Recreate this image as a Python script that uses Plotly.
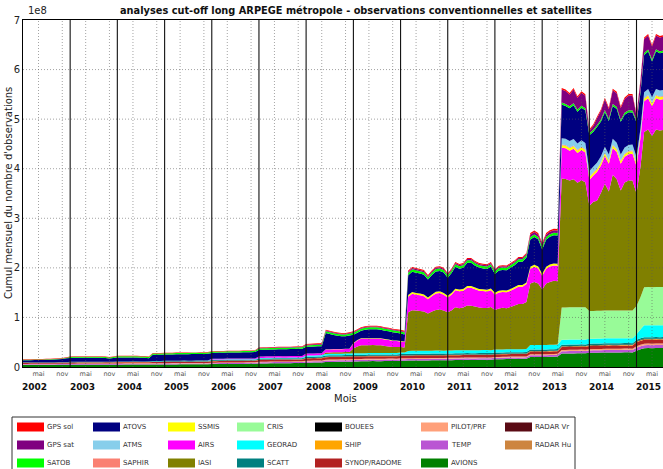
import plotly.graph_objects as go
import pandas as pd

# ---------------- DATA (monthly totals, unit = 1e6 observations) ----------------
MONTHS = pd.date_range("2002-01-01", "2015-08-01", freq="MS")

GPS_SOL = [
1.0,1.0,1.0,1.0,1.0,1.0,1.0,1.0,1.0,1.0,1.0,1.0,
1.0,1.0,1.0,1.0,1.0,1.0,1.0,1.0,1.0,1.0,1.0,1.0,
1.0,1.0,1.0,1.0,1.0,1.0,1.0,1.0,1.0,1.0,1.0,1.0,
1.0,1.0,1.0,1.0,1.0,1.0,1.0,1.0,1.0,1.0,1.0,1.0,
1.0,1.0,1.0,1.0,1.0,1.0,1.0,1.0,1.0,1.0,1.0,1.0,
1.0,1.0,1.0,1.0,1.0,1.0,1.0,1.0,1.0,1.0,1.0,1.0,
1.5,1.5,1.5,1.5,1.5,1.5,1.5,1.5,1.5,1.5,1.5,1.5,
1.5,1.5,1.5,1.5,1.5,1.5,1.5,1.5,1.5,1.5,1.5,1.5,
2.0,2.0,2.0,2.0,2.0,2.0,2.0,2.0,2.0,2.0,2.0,2.0,
2.0,2.0,2.0,2.0,2.0,2.0,2.0,2.0,2.0,2.0,2.0,2.0,
2.0,2.0,2.0,2.0,2.0,2.0,2.0,2.0,2.0,3.0,3.0,3.0,
3.0,3.0,3.0,3.0,3.0,3.0,3.0,3.0,3.0,3.0,3.0,3.0,
3.0,3.0,3.0,3.0,3.0,3.0,3.0,3.0,3.0,3.0,3.0,3.0,
3.0,3.0,3.0,3.0,3.0,3.0,3.0,3.0]

GPS_SAT = [
0,0,0,0,0,0,0,0,0,0,0,0,
0,0,0,0,0,0,0,0,0,0,0,0,
0,0,0,0,0,0,0,0,0,0,0,0,
0,0,0,0,0,0,0,0,0,0,0,0,
0,0,0,0,0,0,0,0,0,0,0,0,
1.0,1.0,1.0,1.0,1.0,1.0,1.0,1.0,1.0,1.0,1.0,1.0,
1.5,1.5,1.5,1.5,1.5,1.5,1.5,1.5,1.5,1.5,1.5,1.5,
1.5,1.5,1.5,1.5,1.5,1.5,1.5,1.5,1.5,1.5,1.5,1.5,
1.5,1.5,2.5,2.5,2.5,2.5,2.5,2.5,2.5,2.5,2.5,2.5,
2.5,2.5,2.5,2.5,2.5,2.5,2.5,2.5,2.5,2.5,2.5,2.5,
2.5,2.5,2.5,2.5,2.5,2.5,2.5,2.5,2.5,5,5,5,
5,5,5,5,5,26,26,24,28,24,26,25,
5,8,14,18,22,20,28,28,24,28,30,30,
10,20,28,28,26,28,28,28]

SATOB = [
1.0,1.0,1.0,1.0,1.0,1.0,1.0,1.0,1.0,1.0,1.0,1.0,
2.0,2.0,2.0,2.0,2.0,2.0,2.0,2.0,2.0,2.0,2.0,2.0,
2.5,2.5,2.5,2.5,2.5,2.5,2.5,2.5,2.5,2.5,2.5,2.5,
2.5,2.5,2.5,2.5,2.5,2.5,2.5,2.5,2.5,2.5,2.5,2.5,
2.5,2.5,2.5,2.5,2.5,2.5,2.5,2.5,2.5,2.5,2.5,2.5,
3.0,3.0,3.0,3.0,3.0,3.0,3.0,3.0,3.0,3.0,3.0,3.0,
3.0,3.0,3.0,3.0,3.0,3.5,3.5,3.5,3.5,3.5,3.5,3.5,
4,4,4,4,4,4,4,4,4,4,4,4,
4,4,5,5,5,5,5,5,5,5,5,5,
5,5,5,5,5,5,5,5,5,5,5,5,
5,5,5,5,5,5,5,5,5,5,5,5,
5,5,5,5,5,4,4,4,4,4,4,4,
4,4,4,4,4,4,4,4,4,4,4,4,
4,4,4,4,4,4,4,4]

ATOVS = [
4.0,4.0,4.2,4.4,4.3,4.5,4.9,4.9,5.3,5.7,6.2,8.0,
8.0,8.1,8.0,8.2,8.1,8.0,8.2,8.3,8.0,7.6,6.5,7.5,
7.8,7.9,7.8,8.0,7.9,7.8,7.6,7.2,6.4,12.5,12.6,12.8,
12.6,12.8,12.5,12.9,13.0,12.8,13.0,13.2,13.1,13.3,13.4,13.6,
11.8,12.0,12.2,12.0,12.3,12.4,12.2,12.5,12.6,12.4,12.6,12.8,
13.0,13.2,13.1,13.5,13.4,13.6,13.8,13.7,14.0,14.2,14.4,14.6,
13.5,13.8,14.0,14.2,14.3,32.7,30.8,28.7,26.6,25.5,25.3,27.0,
16.5,14.4,15.2,17.1,17.9,17.8,17.9,16.9,16.7,16.6,16.6,15.7,
15.3,14.2,40,41,41,40,40,36,39,41,41,41,
36,40,44,42,43,47,47,44,43,42,42,44,
38,41,41,41,43,44,47,47,50,55,56,55,
49,55,56,57,57,68,66,66,68,64,66,66,
72,70,72,70,70,68,66,68,66,66,66,65,
70,72,75,76,72,76,75,76]

ATMS = [
0,0,0,0,0,0,0,0,0,0,0,0,
0,0,0,0,0,0,0,0,0,0,0,0,
0,0,0,0,0,0,0,0,0,0,0,0,
0,0,0,0,0,0,0,0,0,0,0,0,
0,0,0,0,0,0,0,0,0,0,0,0,
0,0,0,0,0,0,0,0,0,0,0,0,
0,0,0,0,0,0,0,0,0,0,0,0,
0,0,0,0,0,0,0,0,0,0,0,0,
0,0,0,0,0,0,0,0,0,0,0,0,
0,0,0,0,0,0,0,0,0,0,0,0,
0,0,0,0,0,0,0,0,0,0,0,0,
0,0,0,0,0,13,13,13,13,13,13,13,
12,12,12,12,12,12,12,12,12,12,12,12,
12,12,12,12,12,12,12,12]

SAPHIR = [
0,0,0,0,0,0,0,0,0,0,0,0,
0,0,0,0,0,0,0,0,0,0,0,0,
0,0,0,0,0,0,0,0,0,0,0,0,
0,0,0,0,0,0,0,0,0,0,0,0,
0,0,0,0,0,0,0,0,0,0,0,0,
0,0,0,0,0,0,0,0,0,0,0,0,
0,0,0,0,0,0,0,0,0,0,0,0,
0,0,0,0,0,0,0,0,0,0,0,0,
0,0,0,0,0,0,0,0,0,0,0,0,
0,0,0,0,0,0,0,0,0,0,0,0,
0,0,0,0,0,0,0,0,0,0,0,0,
0,0,0,0,0,1.5,1.5,1.5,1.5,1.5,1.5,1.5,
1.5,1.5,1.5,1.5,1.5,1.5,1.5,1.5,1.5,1.5,1.5,1.5,
1.5,1.5,1.5,1.5,1.5,1.5,1.5,1.5]

SSMIS = [
0,0,0,0,0,0,0,0,0,0,0,0,
0,0,0,0,0,0,0,0,0,0,0,0,
0,0,0,0,0,0,0,0,0,0,0,0,
0,0,0,0,0,0,0,0,0,0,0,0,
0,0,0,0,0,0,0,0,0,0,0,0,
0,0,0,0,0,0,0,0,0,0,0,0,
0,0,0,0,0,0.5,0.5,0.5,0.5,0.5,0.5,0.5,
1,1,1,1,1,1,1,1,1,1,1,1,
1,1,3.5,3.5,3.5,3.5,3.5,3.5,3.5,3.5,3.5,3.5,
3.5,3.5,3.5,3.5,3.5,3.5,3.5,3.5,3.5,3.5,3.5,3.5,
3.5,3.5,3.5,3.5,3.5,3.5,3.5,3.5,3.5,4,4,4,
4,4,4,4,4,5,5,5,5,5,5,5,
5,5,5,5,5,5,5,5,5,5,5,5,
5,5,5,5,5,5,5,5]

AIRS = [
0,0,0,0,0,0,0,0,0,0,0,0,
0,0,0,0,0,0,0,0,0,0,0,0,
0,0,0,0,0,0,0,0,0,0,0,0,
0,0,0,0,0,0,0,0,0,0,0,0,
1.5,1.5,1.5,1.5,1.5,1.5,1.5,1.5,1.5,1.5,1.5,1.5,
3,3,3,3,3,3,3,3,3,3,3,3,
4,4,4,4,4,6,6,6,6,6,6,6,
10,12,13,13,13,13,13,13,13,13,12,12,
11,11,31,33,32,32,31,29,31,33,33,32,
30,32,34,34,34,36,36,35,34,34,33,34,
31,32,32,32,33,34,35,35,36,30,31,30,
28,30,31,31,31,62,62,60,62,60,61,60,
52,53,58,55,56,56,54,55,54,52,53,54,
55,58,62,63,60,63,62,62]

IASI = [
0,0,0,0,0,0,0,0,0,0,0,0,
0,0,0,0,0,0,0,0,0,0,0,0,
0,0,0,0,0,0,0,0,0,0,0,0,
0,0,0,0,0,0,0,0,0,0,0,0,
0,0,0,0,0,0,0,0,0,0,0,0,
0,0,0,0,0,0,0,0,0,0,0,0,
0,0,0,0,0,3,3,3,3,3,3,3,
10,14,16,16,16,16,16,16,14,13,12,12,
11,10,78,82,81,80,79,75,79,82,83,81,
77,81,87,85,86,90,90,88,86,85,85,87,
80,83,84,83,85,88,91,91,95,124,127,124,
112,124,127,129,128,260,259,256,258,251,256,252,
212,220,222,238,256,240,274,265,242,258,262,262,
227,264,313,318,305,318,316,317]

CRIS = [
0,0,0,0,0,0,0,0,0,0,0,0,
0,0,0,0,0,0,0,0,0,0,0,0,
0,0,0,0,0,0,0,0,0,0,0,0,
0,0,0,0,0,0,0,0,0,0,0,0,
0,0,0,0,0,0,0,0,0,0,0,0,
0,0,0,0,0,0,0,0,0,0,0,0,
0,0,0,0,0,0,0,0,0,0,0,0,
0,0,0,0,0,0,0,0,0,0,0,0,
0,0,0,0,0,0,0,0,0,0,0,0,
0,0,0,0,0,0,0,0,0,0,0,0,
0,0,0,0,0,0,0,0,0,0,0,0,
0,0,0,0,0,65,65,65,65,65,65,65,
56,56,56,56,56,56,56,56,56,56,56,56,
57,65,77,77,77,77,77,77]

GEORAD = [
0,0,0,0,0,0,0,0,0,0,0,0,
0,0,0,0,0,0,0,0,0,0,0,0,
0,0,0,0,0,0,0,0,0,0.5,0.5,0.5,
0.5,0.5,0.5,0.5,0.5,0.5,0.5,0.5,0.5,0.5,0.5,0.5,
1.0,1.0,1.0,1.0,1.0,1.0,1.0,1.0,1.0,1.0,1.0,1.0,
1.5,1.5,1.5,1.5,1.5,1.5,1.5,1.5,1.5,1.5,1.5,1.5,
2.5,2.5,2.5,2.5,2.5,3,3,3,3,3,3,3,
3,3,3,3,3,3,3,3,3,3,3,3,
3,3,6,6,6,6,6,6,6,6,6,6,
6,6,6,6,6,6,6,6,6,6,6,6,
6,6,6,6,6,6,6,6,6,9,9,9,
9,9,9,9,9,10,10,10,10,10,10,10,
10,10,10,10,10,10,10,10,10,10,10,10,
11,18,24,24,24,24,24,24]

SCATT = [
0.6,0.6,0.6,0.6,0.6,0.6,0.6,0.6,0.6,0.6,0.6,0.6,
0.8,0.8,0.8,0.8,0.8,0.8,0.8,0.8,0.8,0.8,0.8,0.8,
1.0,1.0,1.0,1.0,1.0,1.0,1.0,1.0,1.0,1.0,1.0,1.0,
1.2,1.2,1.2,1.2,1.2,1.2,1.2,1.2,1.2,1.2,1.2,1.2,
1.5,1.5,1.5,1.5,1.5,1.5,1.5,1.5,1.5,1.5,1.5,1.5,
2.0,2.0,2.0,2.0,2.0,2.0,2.0,2.0,2.0,2.0,2.0,2.0,
2.5,2.5,2.5,2.5,2.5,2.5,2.5,2.5,2.5,2.5,2.5,2.5,
2.5,2.5,2.5,2.5,2.5,2.5,2.5,2.5,2.5,2.5,2.5,2.5,
2.8,2.8,2.8,2.8,2.8,2.8,2.8,2.8,2.8,2.8,2.8,2.8,
2.8,2.8,2.8,2.8,2.8,2.8,2.8,2.8,2.8,2.8,2.8,2.8,
2.8,2.8,2.8,2.8,2.8,2.8,2.8,2.8,2.8,3,3,3,
3,3,3,3,3,3,3,3,3,3,3,3,
3,3,3,3,3,3,3,3,3,3,3,3,
3,3,3,3,3,3,3,3]

BOUEES = [
0.3,0.3,0.3,0.3,0.3,0.3,0.3,0.3,0.3,0.3,0.3,0.3,
0.3,0.3,0.3,0.3,0.3,0.3,0.3,0.3,0.3,0.3,0.3,0.3,
0.3,0.3,0.3,0.3,0.3,0.3,0.3,0.3,0.3,0.3,0.3,0.3,
0.3,0.3,0.3,0.3,0.3,0.3,0.3,0.3,0.3,0.3,0.3,0.3,
0.4,0.4,0.4,0.4,0.4,0.4,0.4,0.4,0.4,0.4,0.4,0.4,
0.4,0.4,0.4,0.4,0.4,0.4,0.4,0.4,0.4,0.4,0.4,0.4,
0.5,0.5,0.5,0.5,0.5,0.5,0.5,0.5,0.5,0.5,0.5,0.5,
0.5,0.5,0.5,0.5,0.5,0.5,0.5,0.5,0.5,0.5,0.5,0.5,
0.5,0.5,0.5,0.5,0.5,0.5,0.5,0.5,0.5,0.5,0.5,0.5,
0.5,0.5,0.5,0.5,0.5,0.5,0.5,0.5,0.5,0.5,0.5,0.5,
0.5,0.5,0.5,0.5,0.5,0.5,0.5,0.5,0.5,0.6,0.6,0.6,
0.6,0.6,0.6,0.6,0.6,0.8,0.8,0.8,0.8,0.8,0.8,0.8,
0.8,0.8,0.8,0.8,0.8,0.8,0.8,0.8,0.8,0.8,0.8,0.8,
1.0,1.0,1.0,1.0,1.0,1.0,1.0,1.0]

SHIP = [
0.3,0.3,0.3,0.3,0.3,0.3,0.3,0.3,0.3,0.3,0.3,0.3,
0.3,0.3,0.3,0.3,0.3,0.3,0.3,0.3,0.3,0.3,0.3,0.3,
0.3,0.3,0.3,0.3,0.3,0.3,0.3,0.3,0.3,0.3,0.3,0.3,
0.3,0.3,0.3,0.3,0.3,0.3,0.3,0.3,0.3,0.3,0.3,0.3,
0.4,0.4,0.4,0.4,0.4,0.4,0.4,0.4,0.4,0.4,0.4,0.4,
0.4,0.4,0.4,0.4,0.4,0.4,0.4,0.4,0.4,0.4,0.4,0.4,
0.5,0.5,0.5,0.5,0.5,0.5,0.5,0.5,0.5,0.5,0.5,0.5,
0.5,0.5,0.5,0.5,0.5,0.5,0.5,0.5,0.5,0.5,0.5,0.5,
0.5,0.5,0.5,0.5,0.5,0.5,0.5,0.5,0.5,0.5,0.5,0.5,
0.5,0.5,0.5,0.5,0.5,0.5,0.5,0.5,0.5,0.5,0.5,0.5,
0.5,0.5,0.5,0.5,0.5,0.5,0.5,0.5,0.5,0.6,0.6,0.6,
0.6,0.6,0.6,0.6,0.6,0.8,0.8,0.8,0.8,0.8,0.8,0.8,
0.8,0.8,0.8,0.8,0.8,0.8,0.8,0.8,0.8,0.8,0.8,0.8,
1.0,1.0,1.0,1.0,1.0,1.0,1.0,1.0]

SYNOP = [
2.0,2.0,2.0,2.0,2.0,2.0,2.0,2.0,2.0,2.0,2.0,2.0,
2.2,2.2,2.2,2.2,2.2,2.2,2.2,2.2,2.2,2.2,2.2,2.2,
2.3,2.3,2.3,2.3,2.3,2.3,2.3,2.3,2.3,2.3,2.3,2.3,
2.5,2.5,2.5,2.5,2.5,2.5,2.5,2.5,2.5,2.5,2.5,2.5,
3.0,3.0,3.0,3.0,3.0,3.0,3.0,3.0,3.0,3.0,3.0,3.0,
3.5,3.5,3.5,3.5,3.5,3.5,3.5,3.5,3.5,3.5,3.5,3.5,
4.5,4.5,4.5,4.5,4.5,5,5,5,5,5,5,5,
5,5,5,5,5,5,5,5,5,5,5,5,
5,5,5,5,5,5,5,5,5,5,5,5,
5,5,5,5,5,5,5,5,5,5,5,5,
5,5,5,5,5,5,5,5,5,5.5,5.5,5.5,
5.5,5.5,5.5,5.5,5.5,6,6,6,6,6,6,6,
6.5,6.5,6.5,6.5,6.5,6.5,6.5,6.5,6.5,6.5,6.5,6.5,
8,8,8,8,8,8,8,8]

PILOT = [
0.8,0.8,0.8,0.8,0.8,0.8,0.8,0.8,0.8,0.8,0.8,0.8,
0.8,0.8,0.8,0.8,0.8,0.8,0.8,0.8,0.8,0.8,0.8,0.8,
0.9,0.9,0.9,0.9,0.9,0.9,0.9,0.9,0.9,0.9,0.9,0.9,
0.9,0.9,0.9,0.9,0.9,0.9,0.9,0.9,0.9,0.9,0.9,0.9,
1.0,1.0,1.0,1.0,1.0,1.0,1.0,1.0,1.0,1.0,1.0,1.0,
1.2,1.2,1.2,1.2,1.2,1.2,1.2,1.2,1.2,1.2,1.2,1.2,
1.5,1.5,1.5,1.5,1.5,1.8,1.8,1.8,1.8,1.8,1.8,1.8,
1.8,1.8,1.8,1.8,1.8,1.8,1.8,1.8,1.8,1.8,1.8,1.8,
1.8,1.8,1.8,1.8,1.8,1.8,1.8,1.8,1.8,1.8,1.8,1.8,
1.8,1.8,1.8,1.8,1.8,1.8,1.8,1.8,1.8,1.8,1.8,1.8,
1.8,1.8,1.8,1.8,1.8,1.8,1.8,1.8,1.8,2.0,2.0,2.0,
2.0,2.0,2.0,2.0,2.0,2.5,2.5,2.5,2.5,2.5,2.5,2.5,
2.5,2.5,2.5,2.5,2.5,2.5,2.5,2.5,2.5,2.5,2.5,2.5,
3.0,3.0,3.0,3.0,3.0,3.0,3.0,3.0]

TEMP = [
1.5,1.5,1.5,1.5,1.5,1.5,1.5,1.5,1.5,1.5,1.5,1.5,
1.6,1.6,1.6,1.6,1.6,1.6,1.6,1.6,1.6,1.6,1.6,1.6,
1.7,1.7,1.7,1.7,1.7,1.7,1.7,1.7,1.7,1.7,1.7,1.7,
1.8,1.8,1.8,1.8,1.8,1.8,1.8,1.8,1.8,1.8,1.8,1.8,
2.0,2.0,2.0,2.0,2.0,2.0,2.0,2.0,2.0,2.0,2.0,2.0,
2.3,2.3,2.3,2.3,2.3,2.3,2.3,2.3,2.3,2.3,2.3,2.3,
2.5,2.5,2.5,2.5,2.5,3.0,3.0,3.0,3.0,3.0,3.0,3.0,
3.0,3.0,3.0,3.0,3.0,3.0,3.0,3.0,3.0,3.0,3.0,3.0,
3.0,3.0,3.0,3.0,3.0,3.0,3.0,3.0,3.0,3.0,3.0,3.0,
3.0,3.0,3.0,3.0,3.0,3.0,3.0,3.0,3.0,3.0,3.0,3.0,
3.0,3.0,3.0,3.0,3.0,3.0,3.0,3.0,3.0,3.5,3.5,3.5,
3.5,3.5,3.5,3.5,3.5,5.0,5.0,5.0,5.0,5.0,5.0,5.0,
5.0,5.0,5.0,5.0,5.0,5.0,5.0,5.0,5.0,5.0,5.0,5.0,
6.0,6.0,6.0,6.0,6.0,6.0,6.0,6.0]

AVIONS = [
4.0,4.0,4.1,4.1,4.2,4.2,4.1,4.1,4.2,4.3,4.3,4.3,
4.4,4.4,4.5,4.5,4.6,4.6,4.5,4.5,4.6,4.7,4.7,4.6,
4.7,4.7,4.8,4.8,4.9,4.9,4.8,4.8,4.9,5.0,5.0,5.0,
5.1,5.1,5.2,5.2,5.3,5.4,5.3,5.3,5.4,5.5,5.5,5.5,
5.8,5.8,6.0,6.0,6.2,6.3,6.2,6.2,6.3,6.5,6.5,6.5,
7.0,7.1,7.3,7.4,7.6,7.7,7.6,7.6,7.8,8.0,8.0,8.0,
8.6,8.7,8.9,9.0,9.2,10.0,10.2,10.3,10.5,10.6,10.8,10.8,
11.2,11.3,11.5,11.6,11.8,11.9,11.8,11.8,12.0,12.1,12.1,12.0,
12.6,12.7,12.9,13.0,13.2,13.3,13.2,13.2,13.4,13.5,13.5,13.4,
13.7,13.8,14.0,14.1,14.3,14.4,14.2,14.2,14.4,14.5,14.5,14.4,
15.5,15.6,15.8,16.0,16.2,16.4,16.3,16.4,16.6,20.0,20.2,20.3,
20.0,20.2,20.5,20.8,21.0,27.0,27.0,27.2,27.4,27.5,27.6,27.5,
28.5,28.6,28.8,29.0,29.2,29.4,29.2,29.2,29.4,29.6,29.6,29.5,
33.0,36.0,38.0,38.2,38.0,38.3,38.2,38.4]

RADAR_VR = [
0,0,0,0,0,0,0,0,0,0,0,0,
0,0,0,0,0,0,0,0,0,0,0,0,
0,0,0,0,0,0,0,0,0,0,0,0,
0,0,0,0,0,0,0,0,0,0,0,0,
0,0,0,0,0,0,0,0,0,0,0,0,
0,0,0,0,0,0,0,0,0,0,0,0,
0,0,0,0,0,0,0,0,0,0,0,0,
0,0,0,0,0,0,0,0,0,0,0,0,
0,0,0,0,0,0,0,0,0,0,0,0,
0,0,0,0,0,0,0,0,0,0,0,0,
0,0,0,0,0,0,0,0,0,0,0,0,
0,0,0,0,0,0,0,0,0,0,0,0,
0,0,0,0,0,0,0,0,0,0,0,0,
0,0,0,0,0,0,0,0]

RADAR_HU = [
0,0,0,0,0,0,0,0,0,0,0,0,
0,0,0,0,0,0,0,0,0,0,0,0,
0,0,0,0,0,0,0,0,0,0,0,0,
0,0,0,0,0,0,0,0,0,0,0,0,
0,0,0,0,0,0,0,0,0,0,0,0,
0,0,0,0,0,0,0,0,0,0,0,0,
0,0,0,0,0,0,0,0,0,0,0,0,
0,0,0,0,0,0,0,0,0,0,0,0,
0,0,0,0,0,0,0,0,0,0,0,0,
0,0,0,0,0,0,0,0,0,0,0,0,
0,0,0,0,0,0,0,0,0,0,0,0,
0,0,0,0,0,0,0,0,0,0,0,0,
0,0,0,0,0,0,0,0,0,0,0,0,
0,0,0,0,0,0,0,0]

# legend order (column-major in the legend box)
NAMES = ["GPS sol", "GPS sat", "SATOB", "ATOVS", "ATMS", "SAPHIR", "SSMIS", "AIRS",
         "IASI", "CRIS", "GEORAD", "SCATT", "BOUEES", "SHIP", "SYNOP/RADOME",
         "PILOT/PRF", "TEMP", "AVIONS", "RADAR Vr", "RADAR Hu"]
SERIES = [GPS_SOL, GPS_SAT, SATOB, ATOVS, ATMS, SAPHIR, SSMIS, AIRS, IASI, CRIS,
          GEORAD, SCATT, BOUEES, SHIP, SYNOP, PILOT, TEMP, AVIONS, RADAR_VR, RADAR_HU]
COLORS = ["#FF0000", "#800080", "#00FF00", "#000080", "#87CEEB", "#FA8072", "#FFFF00",
          "#FF00FF", "#808000", "#98FB98", "#00FFFF", "#008080", "#000000", "#FFA500",
          "#B22222", "#FFA07A", "#BA55D3", "#008000", "#5A0A14", "#CD853F"]

for s in SERIES:
    assert len(s) == len(MONTHS), len(s)

YEARS = list(range(2002, 2016))
YTICKS = [0, 1, 2, 3, 4, 5, 6, 7]

# ---------------- FIGURE ----------------
W, H = 663, 469
L, T, B = 23, 20, 102
PW, PH = W - L, H - T - B


def px(x):
    return (x - L) / PW


def py(y):
    return (T + PH - y) / PH


fig = go.Figure()
# stack from bottom (last legend entry) to top (first legend entry)
for name, vals, col in reversed(list(zip(NAMES, SERIES, COLORS))):
    fig.add_trace(go.Scatter(
        x=MONTHS, y=[v / 100.0 for v in vals], name=name,
        stackgroup="obs", mode="none", fillcolor=col,
        showlegend=False, hoverinfo="skip"))

tickvals, ticktext = [], []
for y in YEARS:
    for m, lab in ((5, "mai"), (11, "nov")):
        d = pd.Timestamp(year=y, month=m, day=1)
        if d <= pd.Timestamp("2015-07-25"):
            tickvals.append(d)
            ticktext.append(lab)

GRID = dict(color="rgba(90,90,90,0.55)", width=1, dash="1px,2px")
shapes = []
# dotted grid (drawn over the areas like the original)
for d in tickvals:
    shapes.append(dict(type="line", xref="x", yref="y", x0=d, x1=d, y0=0, y1=7,
                       line=GRID, layer="above"))
for v in YTICKS[1:-1]:
    shapes.append(dict(type="line", xref="paper", yref="y", x0=0, x1=1, y0=v, y1=v,
                       line=GRID, layer="above"))
# solid year separators
for y in YEARS[1:]:
    d = pd.Timestamp(year=y, month=1, day=1)
    shapes.append(dict(type="line", xref="x", yref="y", x0=d, x1=d, y0=0, y1=7,
                       line=dict(color="#111", width=1.1), layer="above"))

annotations = []
for y in YEARS:
    annotations.append(dict(x=pd.Timestamp(year=y, month=4, day=3), xref="x",
                            y=py(387), yref="paper", text="<b>%d</b>" % y,
                            showarrow=False, font=dict(size=9, color="#111"),
                            xanchor="center", yanchor="middle"))
annotations.append(dict(x=px(345), y=py(398), xref="paper", yref="paper", text="Mois",
                        showarrow=False, font=dict(size=10, color="#222"),
                        xanchor="center", yanchor="middle"))
annotations.append(dict(x=px(8), y=py(193), xref="paper", yref="paper",
                        text="Cumul mensuel du nombre d'observations", textangle=-90,
                        showarrow=False, font=dict(size=10, color="#222"),
                        xanchor="center", yanchor="middle"))
annotations.append(dict(x=px(26), y=py(11), xref="paper", yref="paper", text="1e8",
                        showarrow=False, font=dict(size=10, color="#222"),
                        xanchor="left", yanchor="middle"))
annotations.append(dict(x=px(356), y=py(11), xref="paper", yref="paper",
                        text="<b>analyses cut-off long ARPEGE métropole - observations conventionnelles et satellites</b>",
                        showarrow=False, font=dict(size=9.8, color="#111"),
                        xanchor="center", yanchor="middle"))

# manual legend box
LEG_COLS = [17, 93, 168, 237, 315, 421, 505]
LEG_ROWS = [427, 445, 463]
shapes.append(dict(type="rect", xref="paper", yref="paper", x0=px(12), x1=px(575),
                   y0=py(417), y1=py(480), line=dict(color="#333", width=1),
                   fillcolor="white", layer="above"))
for i, (name, col) in enumerate(zip(NAMES, COLORS)):
    cx = LEG_COLS[i // 3]
    ry = LEG_ROWS[i % 3]
    shapes.append(dict(type="rect", xref="paper", yref="paper", x0=px(cx), x1=px(cx + 27),
                       y0=py(ry + 4.5), y1=py(ry - 4.5), line=dict(width=0),
                       fillcolor=col, layer="above"))
    annotations.append(dict(x=px(cx + 28), y=py(ry), xref="paper", yref="paper",
                            text=name, showarrow=False, font=dict(size=7, color="#333"),
                            xanchor="left", yanchor="middle"))

fig.update_layout(
    width=W, height=H, margin=dict(l=L, r=0, t=T, b=B, autoexpand=False),
    paper_bgcolor="white", plot_bgcolor="white", showlegend=False,
    font=dict(family="DejaVu Sans", color="#222"),
    xaxis=dict(type="date", range=["2002-01-01", "2015-07-25"], tickmode="array",
               tickvals=tickvals, ticktext=ticktext, tickfont=dict(size=6.5, color="#555"),
               showgrid=False, zeroline=False, showline=True, linecolor="black",
               linewidth=1, mirror=True, ticks="", automargin=False),
    yaxis=dict(range=[0, 7], tickmode="array", tickvals=YTICKS,
               ticktext=[str(v) for v in YTICKS], tickfont=dict(size=10, color="#222"),
               showgrid=False, zeroline=False, showline=True, linecolor="black",
               linewidth=1, ticks="", automargin=False),
    shapes=shapes, annotations=annotations,
)

fig.write_html("out.html")
